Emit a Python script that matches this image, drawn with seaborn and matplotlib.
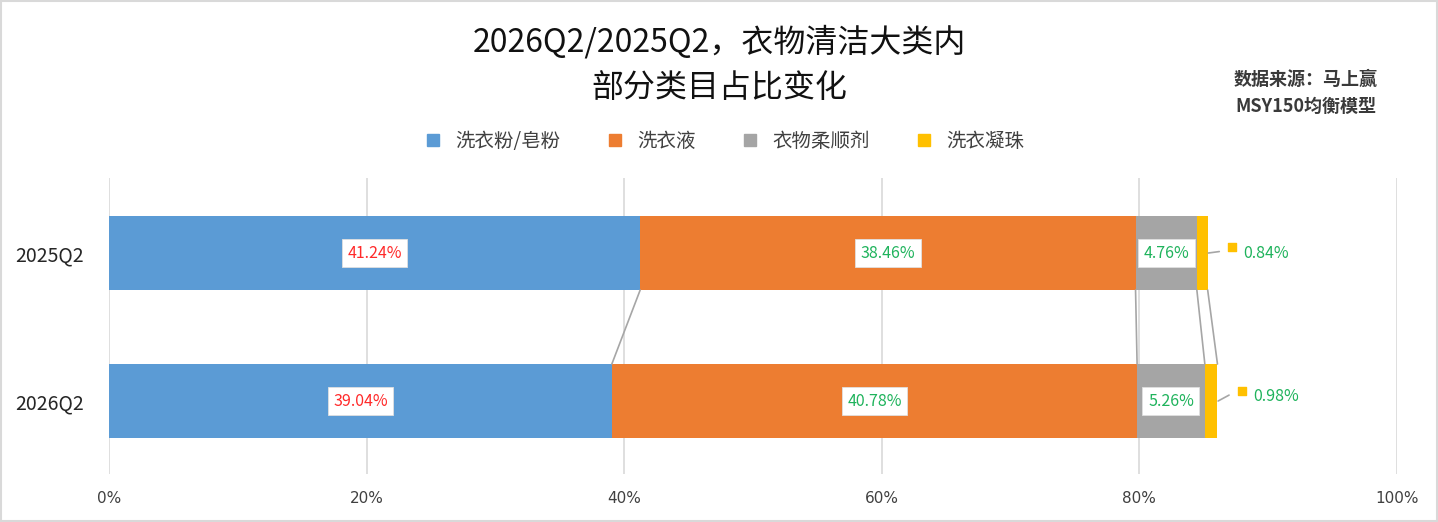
import pandas as pd
import matplotlib
matplotlib.use("Agg")
import matplotlib.pyplot as plt
from matplotlib.patches import Rectangle
import seaborn as sns

# ── Data ──────────────────────────────────────────────────────────────────
periods = ["2025Q2", "2026Q2"]
categories = ["洗衣粉/皂粉", "洗衣液", "衣物柔顺剂", "洗衣凝珠"]
share_2025 = [41.24, 38.46, 4.76, 0.84]
share_2026 = [39.04, 40.78, 5.26, 0.98]
colors = ["#5B9BD5", "#ED7D31", "#A5A5A5", "#FFC000"]
label_colors = ["#FF2A2A", "#1FB35C", "#1FB35C", "#1FB35C"]
x_ticks = [0, 20, 40, 60, 80, 100]

sns.set_theme(style="white")
plt.rcParams["font.family"] = ["Noto Sans CJK SC", "DejaVu Sans"]

df = pd.DataFrame([share_2025, share_2026], columns=categories)
df.insert(0, "period", periods)
cum = df[categories].cumsum(axis=1)
cum["period"] = periods

fig = plt.figure(figsize=(14.38, 5.22), dpi=100)
ax = fig.add_axes([0.0758, 0.092, 0.8957, 0.567])

# stacked bars: draw cumulative totals from the largest down
for cat, col in reversed(list(zip(categories, colors))):
    sns.barplot(data=cum, y="period", x=cat, color=col, orient="h",
                width=0.5, saturation=1, ax=ax, linewidth=0, zorder=2)

ax.set_xlim(0, 100)
ax.set_ylim(1.493, -0.507)
ax.set_xticks(x_ticks)
ax.set_xticklabels([f"{t}%" for t in x_ticks],
                   family=["Liberation Sans Narrow", "DejaVu Sans"],
                   fontsize=11, color="#404040")
ax.tick_params(axis="x", length=0, pad=12)
ax.tick_params(axis="y", length=0, pad=18, labelsize=14, labelcolor="#262626")
ax.set_xlabel("")
ax.set_ylabel("")
ax.grid(axis="x", color="#D9D9D9", linewidth=1.2, zorder=0)
ax.set_axisbelow(True)
for s in ax.spines.values():
    s.set_visible(False)

# connector lines between bar boundaries
half = 0.25
for cat in categories:
    ax.plot([cum.loc[0, cat], cum.loc[1, cat]], [0 + half, 1 - half],
            color="#A6A6A6", linewidth=1.2, zorder=3)

# data labels
shares = [share_2025, share_2026]
for row in range(2):
    starts = [0] + list(cum.loc[row, categories[:-1]])
    for i, cat in enumerate(categories[:-1]):
        val = shares[row][i]
        ax.text(starts[i] + val / 2, row, f"{val:.2f}%", ha="center", va="center",
                fontsize=11.5, color=label_colors[i], zorder=5,
                bbox=dict(boxstyle="square,pad=0.35", fc="white", ec="#E0E0E0", lw=0.6))
    # small segment labelled outside with a leader line
    end = cum.loc[row, categories[-1]]
    dy = -0.03 * row
    ax.plot([end + 0.05, end + 0.9], [row, row + dy - 0.01], color="#A6A6A6",
            linewidth=1.2, zorder=3)
    ax.scatter([end + 1.9], [row + dy - 0.04], marker="s", s=28,
               color=colors[-1], zorder=5)
    ax.text(end + 2.8, row + dy, f"{shares[row][-1]:.2f}%", ha="left", va="center",
            fontsize=11.5, color=label_colors[-1], zorder=5)

# legend
handles = [plt.Line2D([], [], marker="s", linestyle="", markersize=8, color=c)
           for c in colors]
fig.legend(handles, categories, loc="center", bbox_to_anchor=(0.5, 0.729),
           ncol=4, frameon=False, fontsize=14, handletextpad=0.15,
           columnspacing=1.8, labelcolor="#404040")

fig.text(0.5, 0.921, "2026Q2/2025Q2，衣物清洁大类内", ha="center", va="center",
         fontsize=23, color="#111111")
fig.text(0.5, 0.832, "部分类目占比变化", ha="center", va="center",
         fontsize=23, color="#111111")
fig.text(0.908, 0.822, "数据来源：马上赢\nMSY150均衡模型", ha="center", va="center",
         fontsize=13, color="#3A3A3A", linespacing=1.55, fontweight="bold")

fig.patches.append(Rectangle((0.001, 0.002), 0.998, 0.996, transform=fig.transFigure,
                             fill=False, edgecolor="#D9D9D9", linewidth=1.5))

fig.savefig("out.png", dpi=100)
